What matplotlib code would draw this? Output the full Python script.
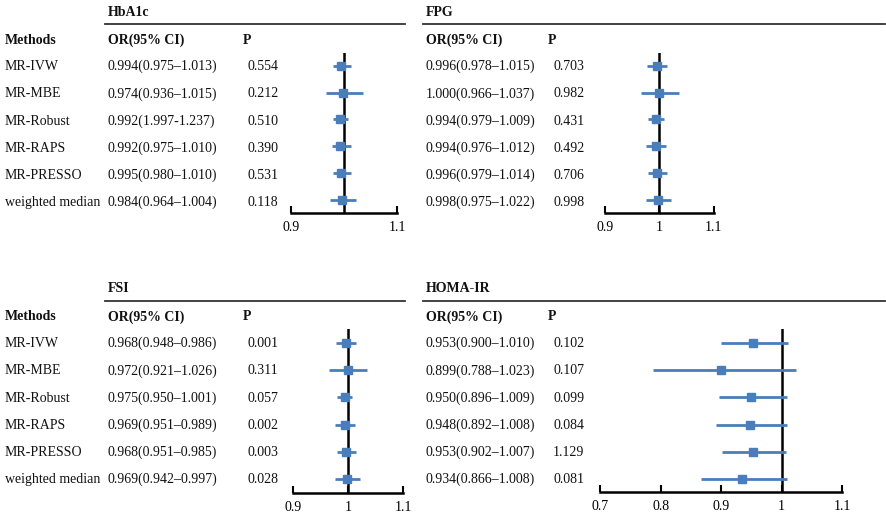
import matplotlib
matplotlib.use("Agg")
import matplotlib.pyplot as plt
from matplotlib.lines import Line2D

plt.rcParams['font.family'] = ['Liberation Serif', 'DejaVu Serif']

W, H = 886, 525
BLUE = '#4a7ebb'
FS = 10

methods = ["MR-IVW", "MR-MBE", "MR-Robust", "MR-RAPS", "MR-PRESSO", "weighted median"]

# HbA1c
hba1c_or = ["0.994(0.975\u20131.013)", "0.974(0.936\u20131.015)", "0.992(1.997-1.237)",
            "0.992(0.975\u20131.010)", "0.995(0.980\u20131.010)", "0.984(0.964\u20131.004)"]
hba1c_p = ["0.554", "0.212", "0.510", "0.390", "0.531", "0.118"]
# plotted markers as drawn in the figure
hba1c_est = [0.994, 0.999, 0.992, 0.992, 0.994, 0.996]
hba1c_lo = [0.979, 0.966, 0.979, 0.977, 0.979, 0.974]
hba1c_hi = [1.014, 1.036, 1.008, 1.013, 1.014, 1.022]

# FPG
fpg_or = ["0.996(0.978\u20131.015)", "1.000(0.966\u20131.037)", "0.994(0.979\u20131.009)",
          "0.994(0.976\u20131.012)", "0.996(0.979\u20131.014)", "0.998(0.975\u20131.022)"]
fpg_p = ["0.703", "0.982", "0.431", "0.492", "0.706", "0.998"]
fpg_est = [0.996, 1.000, 0.994, 0.994, 0.996, 0.998]
fpg_lo = [0.978, 0.966, 0.979, 0.976, 0.979, 0.975]
fpg_hi = [1.015, 1.037, 1.009, 1.012, 1.014, 1.022]

# FSI
fsi_or = ["0.968(0.948\u20130.986)", "0.972(0.921\u20131.026)", "0.975(0.950\u20131.001)",
          "0.969(0.951\u20130.989)", "0.968(0.951\u20130.985)", "0.969(0.942\u20130.997)"]
fsi_p = ["0.001", "0.311", "0.057", "0.002", "0.003", "0.028"]
fsi_est = [0.996, 1.000, 0.994, 0.994, 0.996, 0.998]
fsi_lo = [0.978, 0.965, 0.980, 0.976, 0.980, 0.976]
fsi_hi = [1.014, 1.034, 1.007, 1.012, 1.014, 1.022]

# HOMA-IR
homa_or = ["0.953(0.900\u20131.010)", "0.899(0.788\u20131.023)", "0.950(0.896\u20131.009)",
           "0.948(0.892\u20131.008)", "0.953(0.902\u20131.007)", "0.934(0.866\u20131.008)"]
homa_p = ["0.102", "0.107", "0.099", "0.084", "1.129", "0.081"]
homa_est = [0.953, 0.899, 0.950, 0.948, 0.953, 0.934]
homa_lo = [0.900, 0.788, 0.896, 0.892, 0.902, 0.866]
homa_hi = [1.010, 1.023, 1.009, 1.008, 1.007, 1.008]


fig = plt.figure(figsize=(W / 100, H / 100), dpi=100)


def fx(x):
    return x / W


def fy(y):
    return 1 - y / H


def put(x, y, s, bold=False):
    fig.text(fx(x), fy(y), s, fontsize=FS, ha='left', va='center',
             fontweight='bold' if bold else 'normal', color='#111111')


def panel(title, or_txt, p_txt, est, lo, hi, tx, px, line_x1, top, show_methods,
          ax_l, ax_r, xlim, ax_t, ax_b, row0, row5, ticks, ticklabels):
    # header
    put(tx, top, title, bold=True)
    fig.add_artist(Line2D([fx(tx - 3), fx(line_x1)], [fy(top + 12), fy(top + 12)],
                          color='#333333', lw=1.3))
    hdr_y = top + 28
    if show_methods:
        put(5, hdr_y, "Methods", bold=True)
    put(tx, hdr_y, "OR(95% CI)", bold=True)
    put(px - 5, hdr_y, "P", bold=True)
    for i in range(len(or_txt)):
        ry = top + 54.7 + 27.2 * i
        if show_methods:
            put(5, ry, methods[i])
        put(tx, ry, or_txt[i])
        put(px, ry, p_txt[i])

    # forest plot
    ax = fig.add_axes([fx(ax_l), fy(ax_b), (ax_r - ax_l) / W, (ax_b - ax_t) / H])
    step = (row5 - row0) / 5.0
    ax.set_xlim(*xlim)
    ax.set_ylim(5 + (ax_b - row5) / step, -(row0 - ax_t) / step)
    rows = list(range(len(est)))
    ax.axvline(1, color='black', lw=1.8, zorder=1)
    ax.hlines(rows, lo, hi, color=BLUE, lw=2, zorder=2, clip_on=False)
    ax.plot(est, rows, 's', color=BLUE, ms=5.5, zorder=3, clip_on=False)
    for s in ['top', 'right', 'left']:
        ax.spines[s].set_visible(False)
    ax.spines['bottom'].set_linewidth(1.8)
    ax.set_yticks([])
    ax.set_xticks(ticks)
    ax.set_xticklabels(ticklabels)
    ax.tick_params(axis='x', direction='in', length=5, width=1.5, pad=6, labelsize=FS)
    ax.patch.set_alpha(0)


panel("HbA1c", hba1c_or, hba1c_p, hba1c_est, hba1c_lo, hba1c_hi,
      108, 248, 405, 12, True,
      290.7, 397.3, (0.9, 1.1), 53, 212.7, 65.7, 200, [0.9, 1.1], ["0.9", "1.1"])

panel("FPG", fpg_or, fpg_p, fpg_est, fpg_lo, fpg_hi,
      426, 553, 885, 12, False,
      605, 713.6, (0.9, 1.1), 53, 212.7, 65.7, 200, [0.9, 1.0, 1.1], ["0.9", "1", "1.1"])

panel("FSI", fsi_or, fsi_p, fsi_est, fsi_lo, fsi_hi,
      108, 248, 405, 289, True,
      293.3, 403.3, (0.9, 1.1), 328.5, 492.7, 342.7, 479.3, [0.9, 1.0, 1.1], ["0.9", "1", "1.1"])

panel("HOMA-IR", homa_or, homa_p, homa_est, homa_lo, homa_hi,
      426, 553, 885, 289, False,
      600, 842.3, (0.7, 1.1), 328.5, 492, 342.7, 479.3,
      [0.7, 0.8, 0.9, 1.0, 1.1], ["0.7", "0.8", "0.9", "1", "1.1"])

fig.savefig("out.png", dpi=100)
